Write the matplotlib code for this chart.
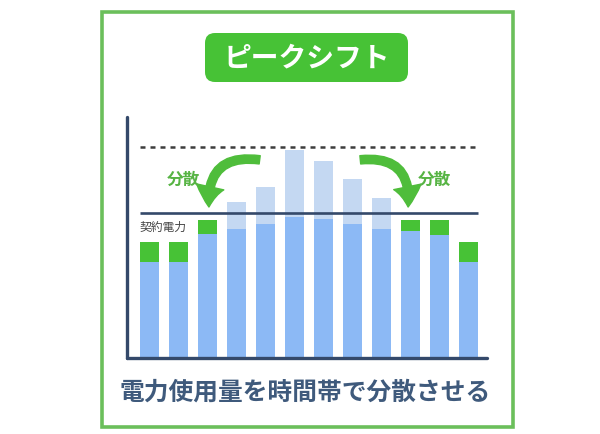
"""ピークシフトの説明図（契約電力を超えた分を他の時間帯へ分散）。"""
import matplotlib
matplotlib.use("Agg")
import matplotlib.pyplot as plt
from matplotlib.patches import FancyBboxPatch, Rectangle
import numpy as np

plt.rcParams["font.family"] = ["Noto Sans CJK JP", "DejaVu Sans"]

# データ（縦軸: 契約電力 = 100）
hours = np.arange(12)
base = [66, 66, 85.5, 89, 92.5, 97, 96, 92.5, 89, 87.5, 85, 66]       # シフト後の使用量
shifted_in = [14, 14, 9.5, 0, 0, 0, 0, 0, 0, 7.5, 10, 14]              # 移された分（緑）
peak_cut = [0, 0, 0, 18.5, 25.5, 46.5, 40, 31, 21, 0, 0, 0]            # 削られたピーク（淡青）
contract = 100
peak = 145

TITLE = "ピークシフト"
CAPTION = "電力使用量を時間帯で分散させる"
LINE_LABEL = "契約電力"
SHIFT_LABEL = "分散"

BLUE = "#8cb9f5"
LIGHT = "#c4d8f2"
GREEN = "#47c236"
ARROW = "#4fbd3b"
NAVY = "#34496a"
BORDER = "#6bbf5b"


def main():
    fig = plt.figure(figsize=(6.0, 4.34), dpi=100)

    # 背景（ピクセル座標）：枠・タイトル・キャプション
    bg = fig.add_axes([0, 0, 1, 1])
    bg.set_xlim(0, 600); bg.set_ylim(434, 0)
    bg.axis("off")
    bg.add_patch(Rectangle((102, 12), 411, 415, fill=False, ec=BORDER, lw=2.6))
    bg.add_patch(FancyBboxPatch((215, 43), 183, 29, boxstyle="round,pad=10,rounding_size=10",
                                fc=GREEN, ec="none"))
    bg.text(306.5, 58, TITLE, ha="center", va="center", color="white",
            fontsize=20, fontweight="bold")
    bg.text(305, 393, CAPTION, ha="center", va="center", color="#3f5a7c",
            fontsize=17.8, fontweight="bold")

    # グラフ本体
    ax = fig.add_axes([127 / 600, 1 - 358 / 434, 360 / 600, 241 / 434])
    w = 0.655
    ax.bar(hours, base, w, color=BLUE, zorder=2)
    ax.bar(hours, shifted_in, w, bottom=base, color=GREEN, zorder=2)
    ax.bar(hours, peak_cut, w, bottom=base, color=LIGHT, zorder=2)

    ax.hlines(contract, -w / 2, hours[-1] + w / 2, color=NAVY, lw=1.9, zorder=3)
    ax.hlines(peak, -w / 2, hours[-1] + w / 2, color="#3d3d3d", lw=1.8,
              linestyles=(0, (2.0, 2.0)), zorder=3)
    ax.text(-w / 2, 90, LINE_LABEL, ha="left", va="center", color="#444444", fontsize=8.5)

    # 分散の矢印
    arrow = dict(arrowstyle="simple,head_length=1.45,head_width=2.0,tail_width=0.6",
                 color=ARROW, shrinkA=0, shrinkB=0, mutation_scale=10)
    ax.annotate("", xy=(2.05, 104), xytext=(3.8, 136.5),
                arrowprops=dict(arrow, connectionstyle="arc3,rad=0.6"))
    ax.annotate("", xy=(8.92, 104), xytext=(7.27, 136.5),
                arrowprops=dict(arrow, connectionstyle="arc3,rad=-0.6"))
    ax.text(1.16, 123, SHIFT_LABEL, ha="center", va="center", color="#57b444",
            fontsize=12, fontweight="bold")
    ax.text(9.84, 123, SHIFT_LABEL, ha="center", va="center", color="#57b444",
            fontsize=12, fontweight="bold")

    ax.set_xlim(-0.776, 11.64)
    ax.set_ylim(0, 166)
    for s in ["top", "right"]:
        ax.spines[s].set_visible(False)
    for s in ["left", "bottom"]:
        ax.spines[s].set_color(NAVY)
        ax.spines[s].set_linewidth(2.4)
        ax.spines[s].set_capstyle("round")
    ax.set_xticks([]); ax.set_yticks([])
    ax.patch.set_alpha(0)

    fig.savefig("out.png", dpi=100)


if __name__ == "__main__":
    main()
